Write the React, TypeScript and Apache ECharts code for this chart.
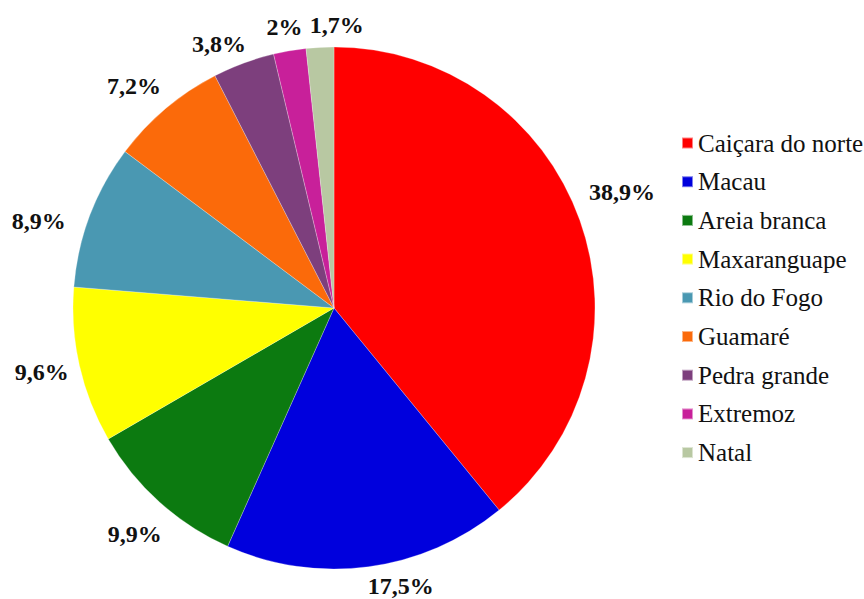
import React, { useEffect, useRef } from "react";
import * as echarts from "echarts";

const categories = [
  "Caiçara do norte",
  "Macau",
  "Areia branca",
  "Maxaranguape",
  "Rio do Fogo",
  "Guamaré",
  "Pedra grande",
  "Extremoz",
  "Natal",
];
const values = [38.9, 17.5, 9.9, 9.6, 8.9, 7.2, 3.8, 2, 1.7];
const labels = ["38,9%", "17,5%", "9,9%", "9,6%", "8,9%", "7,2%", "3,8%", "2%", "1,7%"];
const colors = [
  "#ff0000",
  "#0000dd",
  "#0c7a10",
  "#ffff00",
  "#4a98b2",
  "#fb6a0a",
  "#7d3f7d",
  "#c8209a",
  "#b8c8a2",
];

// label placement style (outside-end, with small nudges like the original)
const CX = 334;
const CY = 308;
const R = 261;
const GAP = 13;
const labelNudge: [number, number][] = [
  [-1, -13],
  [29, -5],
  [-6, 11],
  [2, -3],
  [-12, 20],
  [-14, -2],
  [-16, 4],
  [-1, 0],
  [18, 2],
];

const SERIF = "'Liberation Serif', 'Times New Roman', serif";

export default function App() {
  const ref = useRef<HTMLDivElement>(null);
  useEffect(() => {
    if (!ref.current) return;
    const chart = echarts.init(ref.current, null, { renderer: "svg" });
    const total = values.reduce((a, b) => a + b, 0);
    const mids: number[] = [];
    let acc = 0;
    values.forEach((v) => {
      mids.push(((acc + v / 2) / total) * Math.PI * 2);
      acc += v;
    });
    chart.setOption({
      animation: false,
      backgroundColor: "#ffffff",
      legend: {
        orient: "vertical",
        left: 681,
        top: 130,
        padding: 0,
        itemWidth: 11,
        itemHeight: 11,
        itemGap: 12.7,
        icon: "rect",
        textStyle: {
          fontFamily: SERIF,
          fontSize: 25,
          lineHeight: 26,
          color: "#111",
        },
        data: categories,
      },
      series: [
        {
          type: "pie",
          center: [CX, CY],
          radius: R,
          startAngle: 90,
          clockwise: true,
          avoidLabelOverlap: false,
          itemStyle: { borderColor: "rgba(255,255,255,0.5)", borderWidth: 0.5 },
          label: {
            show: true,
            position: "outside",
            fontFamily: SERIF,
            fontWeight: "bold",
            fontSize: 24,
            lineHeight: 20,
            color: "#111",
            formatter: (p: any) => labels[p.dataIndex],
          },
          labelLine: { show: false, length: 13, length2: 0 },
          labelLayout: (params: any) => {
            const i = params.dataIndex;
            const a = mids[i];
            const s = Math.sin(a);
            const c = Math.cos(a);
            const w = params.labelRect.width;
            const ext = Math.min(
              Math.abs(s) > 1e-6 ? w / 2 / Math.abs(s) : 1e9,
              Math.abs(c) > 1e-6 ? 11 / Math.abs(c) : 1e9
            );
            const d = R + GAP + ext;
            return {
              x: CX + d * s + labelNudge[i][0],
              y: CY - d * c + labelNudge[i][1],
              align: "center",
              verticalAlign: "middle",
            };
          },
          emphasis: { disabled: true },
          data: categories.map((name, i) => ({
            name,
            value: values[i],
            itemStyle: { color: colors[i] },
          })),
        },
      ],
    });
    return () => chart.dispose();
  }, []);
  return (
    <div
      ref={ref}
      style={{ position: "fixed", left: 0, top: 0, width: 864, height: 599 }}
    />
  );
}
